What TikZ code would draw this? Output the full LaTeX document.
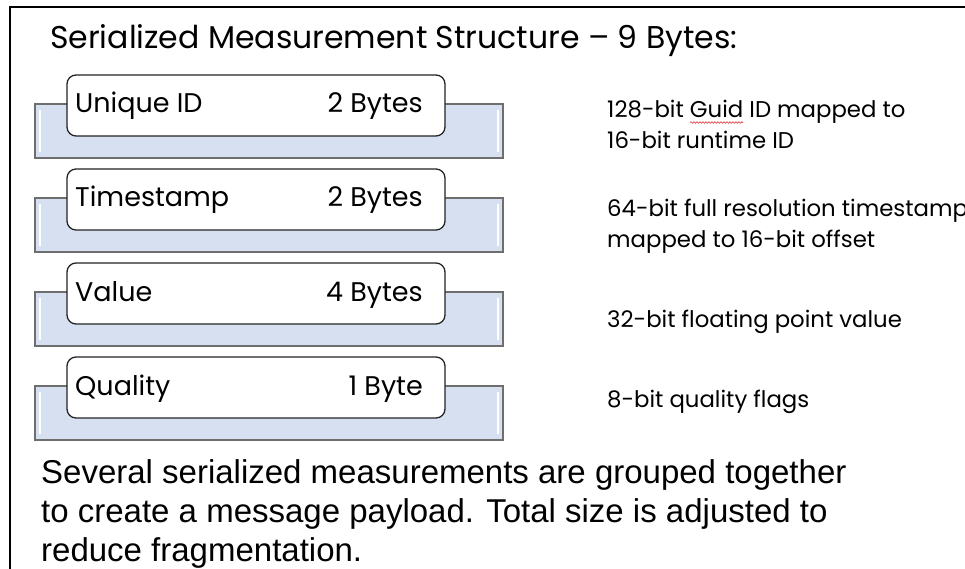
\documentclass[tikz,border=0pt]{standalone}
\usepackage{fontspec}
\setmainfont{Poppins}
\newfontfamily\arialfont{Liberation Sans}
\usetikzlibrary{decorations.pathmorphing}
\begin{document}
\begin{tikzpicture}[x=1pt,y=-1pt,
  bar/.style={rectangle, draw=bardraw, fill=barfill, line width=1.4pt, inner sep=0pt,
    minimum width=468pt, minimum height=54pt,
    path picture={
      \draw[white, line width=1.6pt]
        ([xshift=5pt,yshift=6pt]path picture bounding box.south west) --
        ([xshift=5pt,yshift=-6pt]path picture bounding box.north west);
      \draw[white, line width=1.6pt]
        ([xshift=-5pt,yshift=6pt]path picture bounding box.south east) --
        ([xshift=-5pt,yshift=-6pt]path picture bounding box.north east);}},
  field/.style={rectangle, rounded corners=9pt, draw=boxdraw, fill=white, line width=1.3pt,
    inner sep=0pt, minimum width=378pt, minimum height=61pt},
  label/.style={anchor=base west, inner sep=0pt, font=\fontsize{27}{32}\selectfont},
  size/.style={anchor=base east, inner sep=0pt, font=\fontsize{27}{32}\selectfont},
  note/.style={anchor=base west, inner sep=0pt, font=\fontsize{22.8}{31}\selectfont, align=left}]
%Define all colors here.

\definecolor{barfill}{RGB}{214,224,240}
\definecolor{bardraw}{RGB}{110,110,110}
\definecolor{boxdraw}{RGB}{35,35,35}
\definecolor{squiggle}{RGB}{220,40,40}

\useasboundingbox (0,0) rectangle (965,569);
\draw[line width=2pt] (10,569) -- (10,7) -- (965,7);

\node(title) at (50,49) [anchor=base west, inner sep=0pt, font=\fontsize{31.5}{36}\selectfont] {Serialized Measurement Structure -- 9 Bytes:};

\node(bar1) at (269,131) [bar] {};
\node(id) at (256,105.5) [field] {};
\node(idlabel) at (75,113) [label] {Unique ID};
\node(idsize) at (423,113) [size] {2 Bytes};
% base of a two-line note is the base of its last line
\node(idnote) at (607,149) [note] {128-bit Guid ID mapped to\\16-bit runtime ID};
\draw[squiggle, line width=0.6pt, decorate, decoration={snake, amplitude=0.8pt, segment length=3pt}]
  (690,122.5) -- (743,122.5);

\node(bar2) at (269,225) [bar] {};
\node(ts) at (256,199.5) [field] {};
\node(tslabel) at (75,207) [label] {Timestamp};
\node(tssize) at (423,207) [size] {2 Bytes};
\node(tsnote) at (607,247) [note] {64-bit full resolution timestamp\\mapped to 16-bit offset};

\node(bar3) at (269,319) [bar] {};
\node(val) at (256,293.5) [field] {};
\node(vallabel) at (75,301) [label] {Value};
\node(valsize) at (423,301) [size] {4 Bytes};
\node(valnote) at (607,327) [note] {32-bit floating point value};

\node(bar4) at (269,413) [bar] {};
\node(qual) at (256,387.5) [field] {};
\node(quallabel) at (75,395) [label] {Quality};
\node(qualsize) at (423,395) [size] {1 Byte};
\node(qualnote) at (607,407) [note] {8-bit quality flags};

\node(summary) at (41,561) [anchor=base west, inner sep=0pt, align=left,
  font=\arialfont\fontsize{33}{39}\selectfont]
  {Several serialized measurements are grouped together\\to create a message payload. Total size is adjusted to\\reduce fragmentation.};
\end{tikzpicture}
\end{document}
